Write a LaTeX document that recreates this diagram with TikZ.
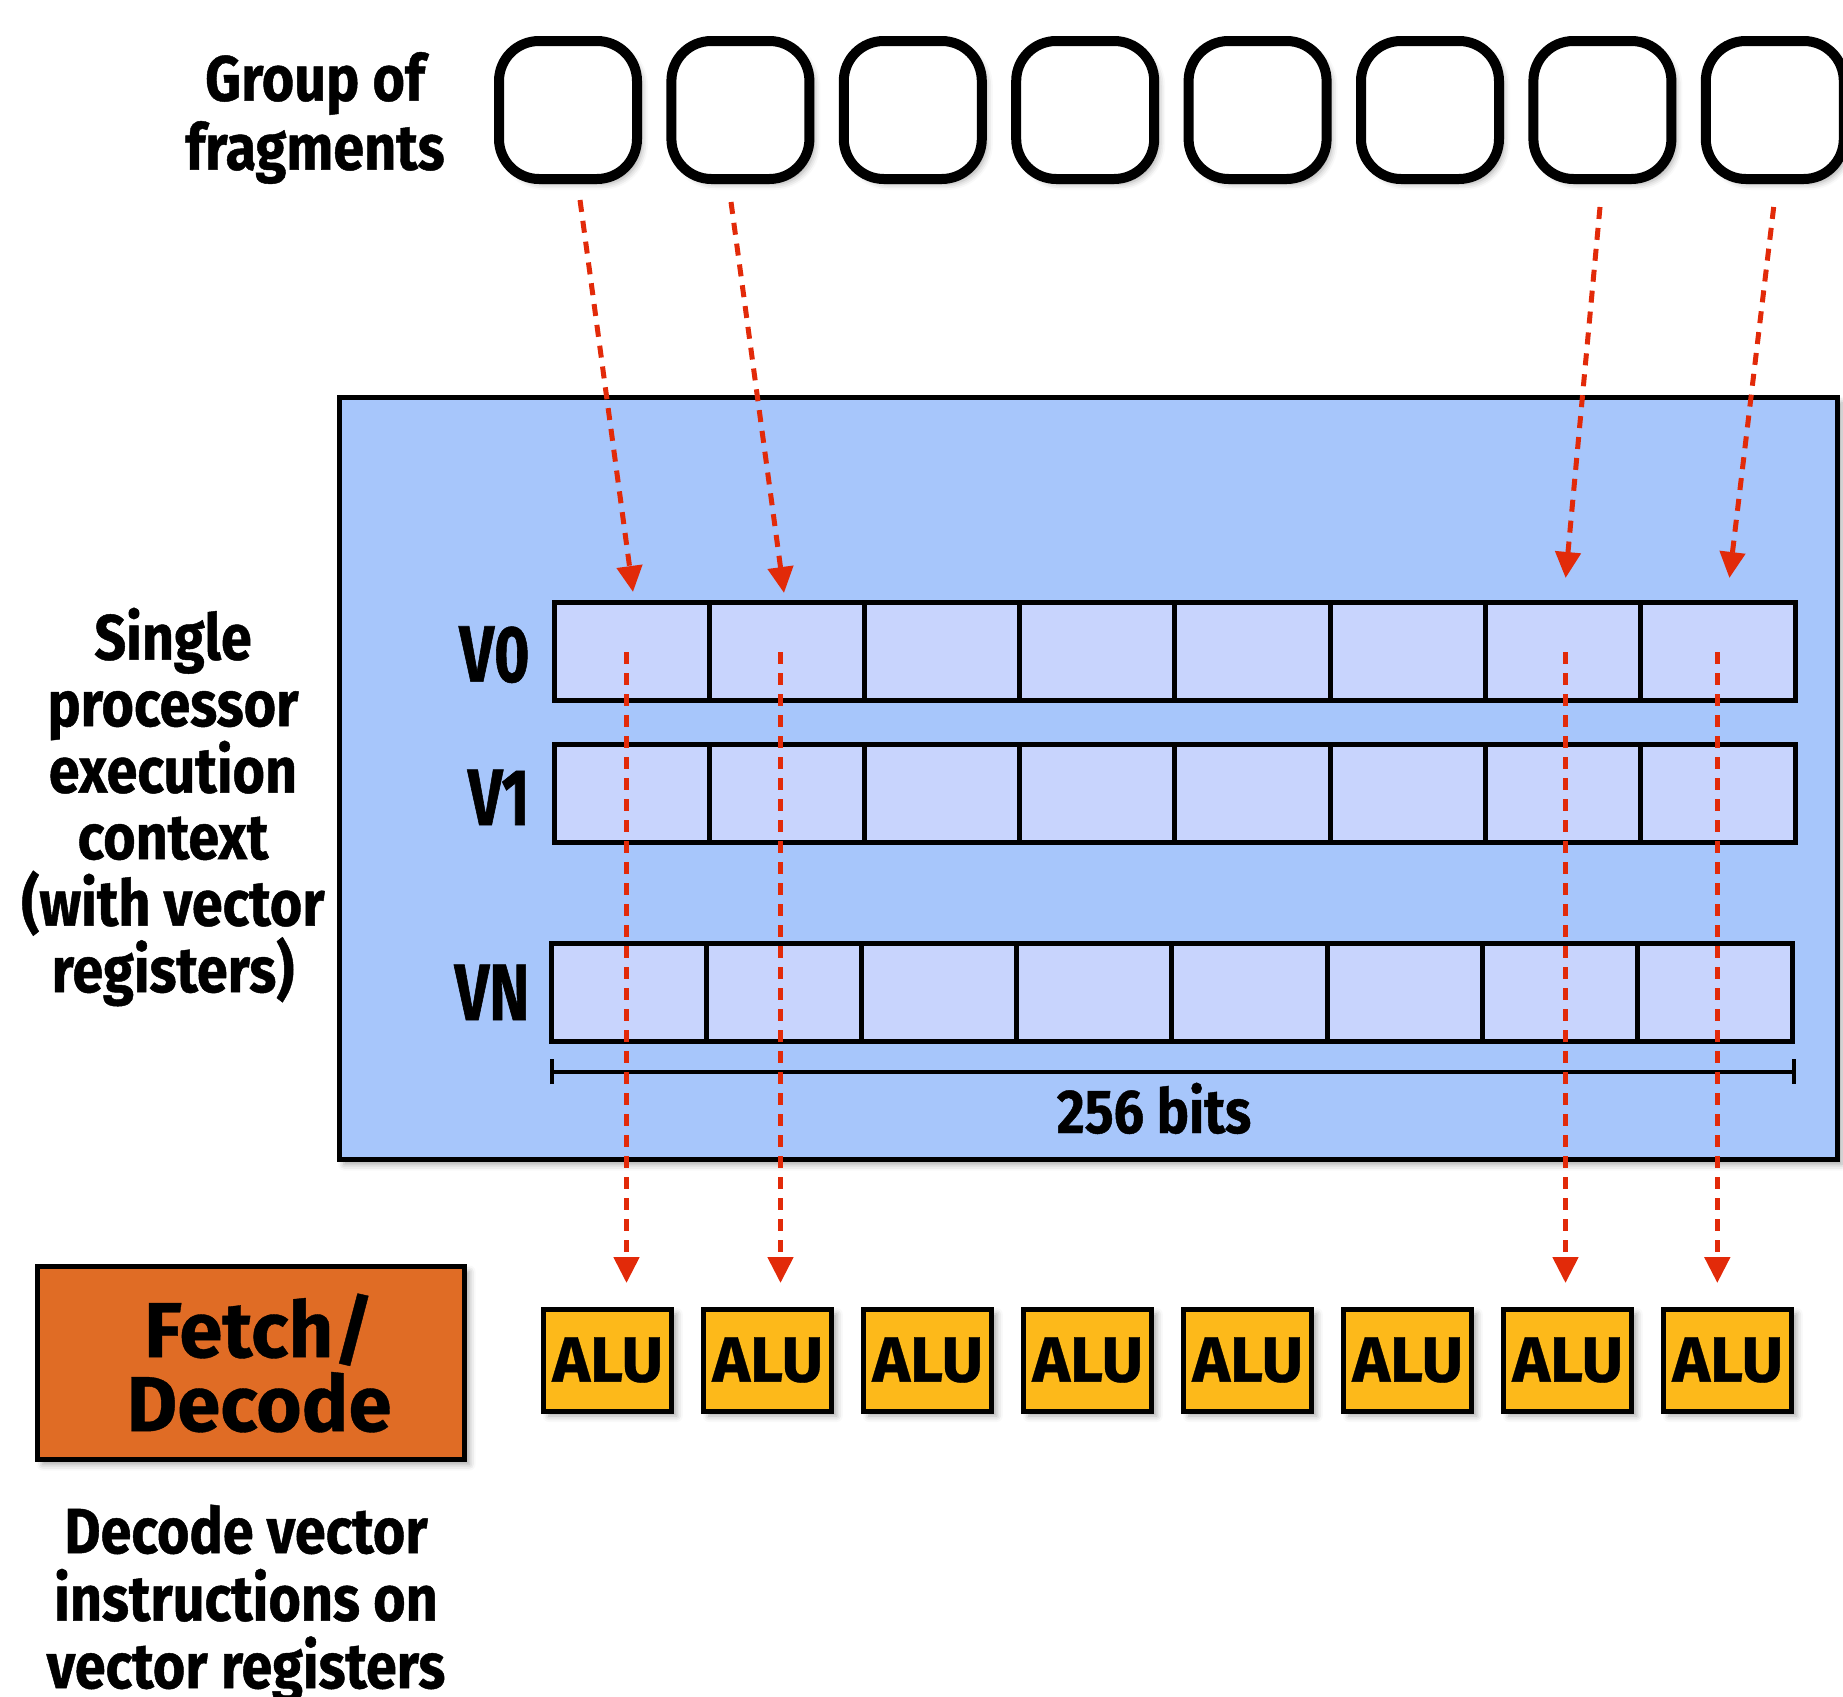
\documentclass[tikz,border=0pt]{standalone}
\usepackage{fontspec}
\setmainfont{Fira Sans}
\newfontfamily\condf{Fira Sans}[FakeStretch=0.87,FakeBold=0.7]
\newfontfamily\vcondf{Fira Sans}[FakeStretch=0.76,FakeBold=0.7]
\newfontfamily\widef{Fira Sans}[FakeBold=0.5]
\usetikzlibrary{arrows.meta,shadows.blur,calc}
\definecolor{ctxblue}{RGB}{167,198,251}
\definecolor{cellblue}{RGB}{200,212,253}
\definecolor{fetchorange}{RGB}{224,108,37}
\definecolor{alugold}{RGB}{253,185,26}
\definecolor{arrowred}{RGB}{226,42,9}
\tikzset{
  softshadow/.style={blur shadow={shadow xshift=2.5pt, shadow yshift=-2.5pt, shadow blur radius=3pt, shadow opacity=35}},
  frag/.style={draw=black, line width=5pt, fill=white, rounded corners=20pt, minimum width=69pt, minimum height=69pt, inner sep=0pt, softshadow},
  ctxbox/.style={draw=black, line width=2.5pt, fill=ctxblue, minimum width=749pt, minimum height=381pt, inner sep=0pt, softshadow},
  cell/.style={draw=black, line width=2.5pt, fill=cellblue, minimum width=77.6pt, minimum height=49pt, inner sep=0pt},
  alubox/.style={draw=black, line width=2.5pt, fill=alugold, minimum width=64pt, minimum height=51pt, inner sep=0pt, softshadow, font=\widef\bfseries\fontsize{32}{36}\selectfont},
  fetchbox/.style={draw=black, line width=2.5pt, fill=fetchorange, minimum width=213.5pt, minimum height=96.5pt, inner sep=0pt, softshadow},
  fetchtxt/.style={inner sep=0pt, align=center, font=\widef\bfseries\fontsize{39}{37}\selectfont},
  lbl/.style={inner sep=0pt, align=center, font=\condf\bfseries\fontsize{32}{33.25}\selectfont},
  vlbl/.style={inner sep=0pt, anchor=base east, font=\vcondf\bfseries\fontsize{40}{40}\selectfont},
  redarrow/.style={draw=arrowred, line width=2.5pt, dash pattern=on 6pt off 4.5pt, -{Triangle[width=12.5pt,length=13pt]}},
  dimline/.style={draw=black, line width=2pt, {Bar[width=12.5pt]}-{Bar[width=12.5pt]}},
}
\begin{document}
\begin{tikzpicture}[x=0.5pt, y=-0.5pt]
\useasboundingbox (0,0) rectangle (1843,1697);

% group of fragments
\node[lbl, font=\condf\bfseries\fontsize{32}{34.5}\selectfont] (grplbl) at (315,118) {Group of\\fragments};
\foreach \i in {1,...,8}{
  \node[frag] (f\i) at ({568+172.4*(\i-1)},110) {};
}

% execution context
\node[ctxbox] (ctx) at (1088,778.5) {};
\node[lbl] (ctxlbl) at (173,807) {Single\\processor\\execution\\context\\(with vector\\registers)};

\foreach \k in {1,...,8}{
  \node[cell] (r0c\k) at ({554+155.2*(\k-0.5)},651) {};
  \node[cell] (r1c\k) at ({554+155.2*(\k-0.5)},793) {};
  \node[cell] (rNc\k) at ({551+155.2*(\k-0.5)},992.5) {};
}
\node[vlbl] (v0) at (530,681.7) {V0};
\node[vlbl] (v1) at (530,825) {V1};
\node[vlbl] (vn) at (530,1020) {VN};

\coordinate (dimL) at (550,1071.7);
\coordinate (dimR) at (1796,1071.7);
\draw[dimline] (dimL) -- (dimR);
\node[lbl, anchor=base, font=\condf\bfseries\fontsize{31}{33}\selectfont] (bits) at (1154,1133) {256 bits};

% ALUs
\foreach \i in {1,...,8}{
  \node[alubox] (alu\i) at ({607.75+160*(\i-1)},1360) {ALU};
}

% fetch/decode
\node[fetchbox] (fetch) at (251,1363) {};
\node[fetchtxt] (fetchtext) at (259,1363) {Fetch/\\Decode};
\node[lbl, font=\condf\bfseries\fontsize{32}{33.75}\selectfont] (declbl) at (246,1603.5) {Decode vector\\instructions on\\vector registers};

% arrows from fragments to V0
\coordinate (t1s) at (580,200);  \coordinate (t1e) at (633,592);
\coordinate (t2s) at (731,202);  \coordinate (t2e) at (784,593);
\coordinate (t7s) at (1600,207); \coordinate (t7e) at (1565.6,578);
\coordinate (t8s) at (1773.7,207); \coordinate (t8e) at (1729.4,578);
\draw[redarrow] (t1s) -- (t1e);
\draw[redarrow] (t2s) -- (t2e);
\draw[redarrow] (t7s) -- (t7e);
\draw[redarrow] (t8s) -- (t8e);

% arrows from registers to ALUs
\coordinate (b1s) at (626.5,652);  \coordinate (b1e) at (626.5,1283);
\coordinate (b2s) at (780.5,652);  \coordinate (b2e) at (780.5,1283);
\coordinate (b7s) at (1565.5,652); \coordinate (b7e) at (1565.5,1283);
\coordinate (b8s) at (1717.3,652); \coordinate (b8e) at (1717.3,1283);
\draw[redarrow] (b1s) -- (b1e);
\draw[redarrow] (b2s) -- (b2e);
\draw[redarrow] (b7s) -- (b7e);
\draw[redarrow] (b8s) -- (b8e);
\end{tikzpicture}
\end{document}
